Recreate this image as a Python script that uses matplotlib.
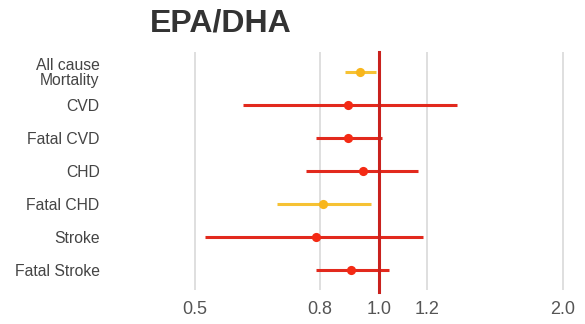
import matplotlib
matplotlib.use("Agg")
import matplotlib.pyplot as plt
import numpy as np

plt.rcParams['font.family'] = ['Liberation Sans', 'DejaVu Sans']

title = "EPA/DHA"
outcomes = ["All cause\nMortality", "CVD", "Fatal CVD", "CHD", "Fatal CHD", "Stroke", "Fatal Stroke"]
estimate = [0.93, 0.89, 0.89, 0.94, 0.81, 0.79, 0.90]
ci_low = [0.88, 0.60, 0.79, 0.76, 0.68, 0.52, 0.79]
ci_high = [0.99, 1.34, 1.01, 1.16, 0.97, 1.18, 1.04]
highlight = [True, False, False, False, True, False, False]
xticks = [0.5, 0.8, 1.0, 1.2, 2.0]
xtick_labels = ["0.5", "0.8", "1.0", "1.2", "2.0"]

RED_LINE = "#e2291d"
RED_DOT = "#f42a14"
YEL_LINE = "#f6c234"
YEL_DOT = "#f8b61c"

W, H = 585, 324
fig = plt.figure(figsize=(W / 100, H / 100), dpi=100)
L, R, T, B = 108, 580, 52, 290
ax = fig.add_axes([L / W, 1 - B / H, (R - L) / W, (B - T) / H])

ax.set_xscale("log")
ax.set_xlim(np.exp((L - 379) / 265.5), np.exp((R - 379) / 265.5))
ax.set_ylim(6.6, -0.6)

for xt in xticks:
    if xt != 1.0:
        ax.axvline(xt, color="#dcdcdc", lw=1.3, zorder=0)
ax.axvline(1.0, ymin=-0.01, ymax=1.0, color="#c9211d", lw=2.2, zorder=3, clip_on=False)

ys = np.arange(len(outcomes))
for y, e, lo, hi, hl in zip(ys, estimate, ci_low, ci_high, highlight):
    lc = YEL_LINE if hl else RED_LINE
    dc = YEL_DOT if hl else RED_DOT
    ax.plot([lo, hi], [y, y], color=lc, lw=2.2, solid_capstyle="butt", zorder=2)
    ax.plot([e], [y], "o", color=dc, ms=6.6, mec="none", zorder=4)

ax.set_xticks(xticks)
ax.set_xticklabels(xtick_labels, fontsize=13, color="#555555")
ax.xaxis.set_minor_locator(matplotlib.ticker.NullLocator())
ax.set_yticks(ys)
ax.set_yticklabels(outcomes, fontsize=11.3, color="#444444", linespacing=0.95)
ax.tick_params(axis="both", length=0)
ax.tick_params(axis="x", pad=8)
ax.tick_params(axis="y", pad=6)
for s in ax.spines.values():
    s.set_visible(False)

fig.text(150 / W, 1 - 23 / H, title, fontsize=23, fontweight="bold", color="#333333",
         ha="left", va="center")

fig.savefig("out.png", dpi=100)
